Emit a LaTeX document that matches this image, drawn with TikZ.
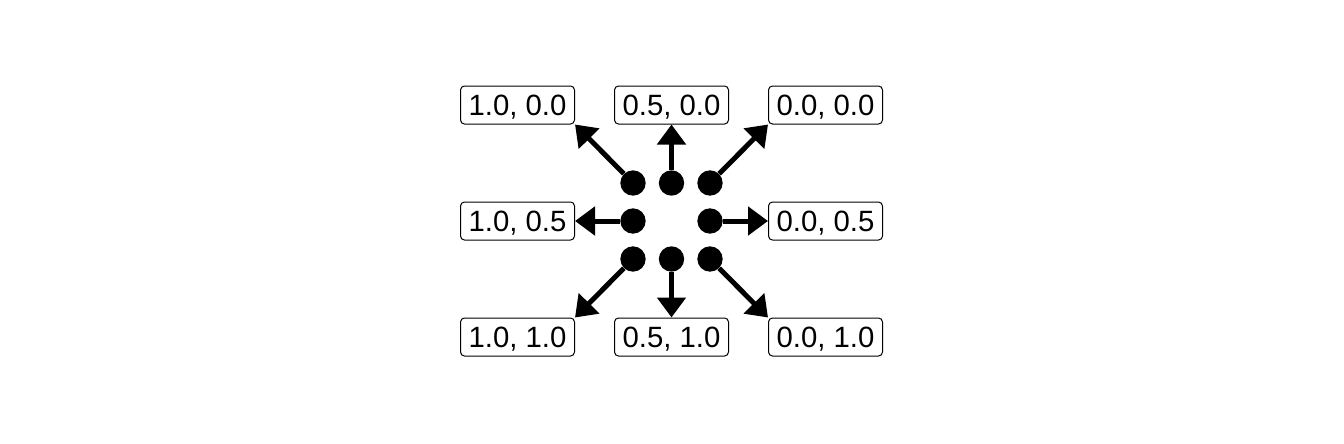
\documentclass[tikz,border=0pt]{standalone}
\usepackage{fontspec}
\setmainfont{Liberation Sans}
\usetikzlibrary{arrows.meta}

\begin{document}
\begin{tikzpicture}
      [ x=0.75pt, y=-0.75pt
      , jbox/.style={draw, rounded corners=3pt, line width=0.75pt, minimum width=85.5pt, minimum height=28.5pt, inner sep=0pt, text height=15.75pt, text depth=0pt, font=\fontsize{22}{22}\selectfont}
      , dot/.style={circle, fill=black, inner sep=0pt, minimum size=19pt}
      , pointer/.style={black, line width=3.75pt, -{Triangle[length=15pt, width=21pt]}}
      ]
    \useasboundingbox (0,0) rectangle (1344,443);

    \node[dot] (TL) at (633, 183) {};
    \node[dot] (T) at (671.5, 183) {};
    \node[dot] (TR) at (710, 183) {};
    \node[dot] (L) at (633, 221) {};
    \node[dot] (R) at (710, 221) {};
    \node[dot] (BL) at (633, 259) {};
    \node[dot] (B) at (671.5, 259) {};
    \node[dot] (BR) at (710, 259) {};

    \node[jbox] (TLb) at (517.5, 105) {1.0, 0.0};
    \node[jbox] (Tb) at (671.5, 105) {0.5, 0.0};
    \node[jbox] (TRb) at (825.5, 105) {0.0, 0.0};
    \node[jbox] (Lb) at (517.5, 221) {1.0, 0.5};
    \node[jbox] (Rb) at (825.5, 221) {0.0, 0.5};
    \node[jbox] (BLb) at (517.5, 337) {1.0, 1.0};
    \node[jbox] (Bb) at (671.5, 337) {0.5, 1.0};
    \node[jbox] (BRb) at (825.5, 337) {0.0, 1.0};

    \draw[pointer]
    (TL) edge (TLb.south east)
    (T) edge (Tb.south)
    (TR) edge (TRb.south west)

    (L) edge (Lb.east)
    (R) edge (Rb.west)

    (BL) edge (BLb.north east)
    (B) edge (Bb.north)
    (BR) edge (BRb.north west);

  \end{tikzpicture}
\end{document}
